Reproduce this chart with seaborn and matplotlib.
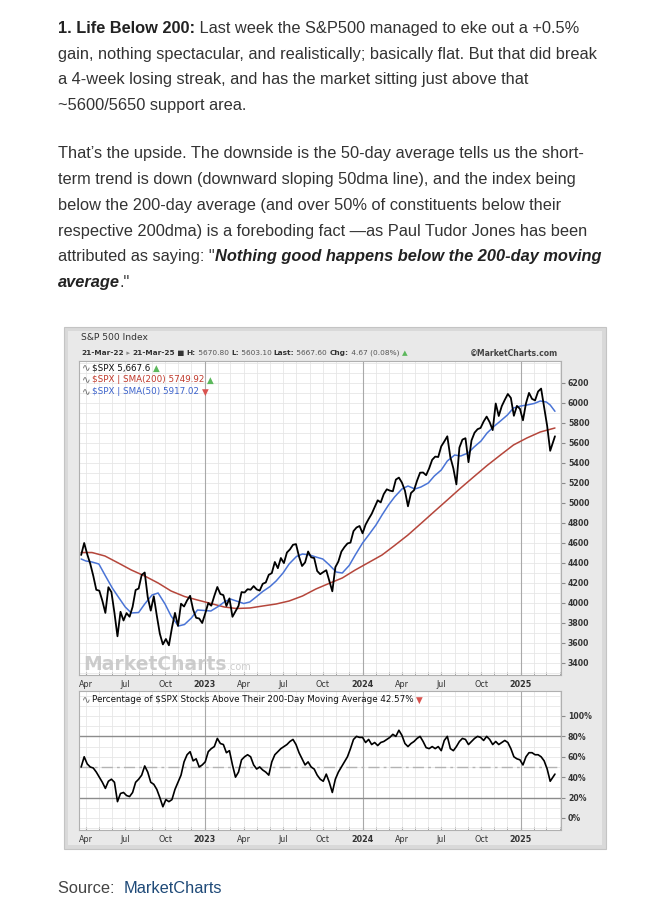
import matplotlib
matplotlib.use("Agg")
import matplotlib.pyplot as plt
import matplotlib.dates as mdates
from matplotlib.patches import Rectangle
from matplotlib.ticker import MultipleLocator
import pandas as pd
import seaborn as sns

# ---------------- data ----------------
spx_start = "2022-03-21"
spx_last_date = "2025-03-21"
spx_weekly = [
    4480, 4600, 4488, 4393, 4272, 4132, 4123, 4023, 3901, 4158,
    4109, 3901, 3667, 3912, 3825, 3899, 3863, 3962, 4130, 4145,
    4280, 4305, 4058, 3924, 4067, 3873, 3693, 3586, 3640, 3577,
    3752, 3901, 3771, 3993, 3965, 4026, 4072, 3934, 3852, 3845,
    3800, 3895, 3999, 3973, 4071, 4160, 4090, 4079, 3970, 4046,
    3862, 3917, 3971, 4109, 4105, 4138, 4133, 4169, 4136, 4124,
    4192, 4205, 4282, 4299, 4410, 4348, 4450, 4399, 4505, 4536,
    4582, 4589, 4464, 4370, 4406, 4515, 4457, 4450, 4320, 4288,
    4309, 4328, 4224, 4117, 4358, 4415, 4514, 4559, 4595, 4604,
    4719, 4755, 4770, 4697, 4784, 4840, 4891, 4959, 5027, 5006,
    5089, 5137, 5124, 5117, 5234, 5254, 5204, 5123, 4967, 5100,
    5128, 5223, 5303, 5305, 5278, 5347, 5432, 5464, 5460, 5567,
    5615, 5667, 5459, 5346, 5186, 5554, 5634, 5648, 5408, 5626,
    5703, 5738, 5751, 5815, 5864, 5808, 5729, 5995, 5870, 5969,
    6032, 6090, 6051, 5872, 5971, 5942, 5827, 5997, 6101, 6041,
    6026, 6115, 6144, 5955, 5770, 5522, 5667]

pct_weekly = [
    50, 60, 53, 50, 49, 45, 40, 35, 29, 36,
    38, 35, 16, 24, 25, 22, 21, 25, 35, 38,
    42, 51, 45, 35, 33, 28, 20, 11, 18, 16,
    18, 28, 35, 42, 55, 62, 65, 56, 58, 50,
    52, 55, 65, 68, 70, 78, 73, 72, 64, 66,
    52, 40, 45, 57, 60, 62, 60, 52, 48, 50,
    47, 45, 42, 55, 62, 65, 68, 70, 72, 75,
    77, 72, 64, 58, 52, 55, 50, 48, 42, 38,
    36, 43, 35, 25, 38, 45, 50, 55, 60, 68,
    77, 80, 79, 79, 74, 77, 72, 74, 71, 74,
    75, 77, 79, 82, 80, 86, 81, 73, 70, 73,
    75, 78, 80, 75, 69, 68, 70, 68, 70, 66,
    76, 80, 68, 66, 70, 75, 78, 77, 72, 75,
    78, 80, 79, 76, 80, 77, 72, 75, 72, 74,
    76, 74, 68, 60, 58, 57, 52, 60, 64, 64,
    62, 62, 60, 56, 48, 36, 43]

sma200_dates = [
    "2022-03-21", "2022-04-15", "2022-05-15", "2022-06-15", "2022-07-15",
    "2022-08-15", "2022-09-15", "2022-10-15", "2022-11-15", "2022-12-15",
    "2023-01-15", "2023-02-15", "2023-03-15", "2023-04-15", "2023-05-15",
    "2023-06-15", "2023-07-15", "2023-08-15", "2023-09-15", "2023-10-15",
    "2023-11-15", "2023-12-15", "2024-01-15", "2024-02-15", "2024-03-15",
    "2024-04-15", "2024-05-15", "2024-06-15", "2024-07-15", "2024-08-15",
    "2024-09-15", "2024-10-15", "2024-11-15", "2024-12-15", "2025-01-15",
    "2025-02-15", "2025-03-21"]
sma200_vals = [
    4505, 4505, 4470, 4400, 4330, 4270, 4200, 4120, 4065, 4030,
    3995, 3960, 3945, 3950, 3970, 3990, 4020, 4070, 4140, 4195,
    4250, 4330, 4405, 4480, 4575, 4680, 4795, 4915, 5030, 5150,
    5265, 5375, 5480, 5580, 5650, 5710, 5750]

sma50_dates = [
    "2022-03-21", "2022-04-01", "2022-04-15", "2022-05-01", "2022-05-15",
    "2022-06-01", "2022-06-15", "2022-07-01", "2022-07-15", "2022-08-01",
    "2022-08-15", "2022-09-01", "2022-09-15", "2022-10-01", "2022-10-15",
    "2022-11-01", "2022-11-15", "2022-12-01", "2022-12-15", "2023-01-01",
    "2023-01-15", "2023-02-01", "2023-02-15", "2023-03-01", "2023-03-15",
    "2023-04-01", "2023-04-15", "2023-05-01", "2023-05-15", "2023-06-01",
    "2023-06-15", "2023-07-01", "2023-07-15", "2023-08-01", "2023-08-15",
    "2023-09-01", "2023-09-15", "2023-10-01", "2023-10-15", "2023-11-01",
    "2023-11-15", "2023-12-01", "2023-12-15", "2024-01-01", "2024-01-15",
    "2024-02-01", "2024-02-15", "2024-03-01", "2024-03-15", "2024-04-01",
    "2024-04-15", "2024-05-01", "2024-05-15", "2024-06-01", "2024-06-15",
    "2024-07-01", "2024-07-15", "2024-08-01", "2024-08-15", "2024-09-01",
    "2024-09-15", "2024-10-01", "2024-10-15", "2024-11-01", "2024-11-15",
    "2024-12-01", "2024-12-15", "2025-01-01", "2025-01-15", "2025-02-01",
    "2025-02-15", "2025-03-01", "2025-03-10", "2025-03-21"]
sma50_vals = [
    4440, 4420, 4410, 4390, 4280, 4150, 4060, 3960, 3900, 3905,
    3990, 4080, 4100, 3990, 3870, 3770, 3785, 3850, 3930, 3925,
    3920, 3965, 4010, 4040, 4020, 3995, 4010, 4065, 4115, 4165,
    4220, 4300, 4390, 4465, 4490, 4480, 4460, 4440, 4385, 4310,
    4300, 4375, 4480, 4600, 4680, 4780, 4880, 4980, 5060, 5140,
    5170, 5140, 5160, 5200, 5270, 5330, 5420, 5480, 5470, 5500,
    5560, 5620, 5700, 5770, 5820, 5880, 5950, 5970, 5980, 5995,
    6020, 6010, 5980, 5917]

tick_dates = ["2022-04-01", "2022-07-01", "2022-10-01", "2023-01-01",
              "2023-04-01", "2023-07-01", "2023-10-01", "2024-01-01",
              "2024-04-01", "2024-07-01", "2024-10-01", "2025-01-01"]
tick_labels = ["Apr", "Jul", "Oct", "2023", "Apr", "Jul", "Oct", "2024",
               "Apr", "Jul", "Oct", "2025"]
price_ticks = [3400, 3600, 3800, 4000, 4200, 4400, 4600, 4800, 5000,
               5200, 5400, 5600, 5800, 6000, 6200]
pct_ticks = [0, 20, 40, 60, 80, 100]

# ---------------- figure ----------------
sns.set_style("white")
plt.rcParams['font.family'] = ['DejaVu Sans']

W, H = 645, 918
fig = plt.figure(figsize=(W / 100, H / 100), dpi=100)
fig.patch.set_facecolor('white')
fig.canvas.draw()
R = fig.canvas.get_renderer()


def width(txt, **kw):
    t = fig.text(0, 0, "|" + txt + "|", **kw)
    w1 = t.get_window_extent(R).width
    t.set_text("||")
    w2 = t.get_window_extent(R).width
    t.remove()
    return w1 - w2


def runs(x, y, parts, base, va='baseline', ha='left'):
    total = 0
    if ha == 'right':
        for txt, extra in parts:
            kw = dict(base); kw.update(extra)
            total += width(txt, **kw)
        x = x - total
    cx = x
    for txt, extra in parts:
        kw = dict(base); kw.update(extra)
        fig.text(cx / W, 1 - y / H, txt, va=va, ha='left', **kw)
        adv = width(txt, **kw)
        if kw.get('fontstyle') == 'italic':
            adv -= 0.5
        cx += adv
    return cx


# ---------------- article text ----------------
PF = 'Liberation Sans'
ref_line = "gain, nothing spectacular, and realistically; basically flat. But that did break"
w10 = width(ref_line, family=PF, fontsize=10)
fs = 10 * 539 / w10
body = dict(family=PF, fontsize=fs, color='#333333')
B = dict(fontweight='bold', color='#222222')
BI = dict(fontweight='bold', fontstyle='italic', color='#222222')
N = {}
X0 = 58

p1 = [
    [("1. Life Below 200:", B), (" Last week the S&P500 managed to eke out a +0.5%", N)],
    [("gain, nothing spectacular, and realistically; basically flat. But that did break", N)],
    [("a 4-week losing streak, and has the market sitting just above that", N)],
    [("~5600/5650 support area.", N)],
]
p2 = [
    [("That’s the upside. The downside is the 50-day average tells us the short-", N)],
    [("term trend is down (downward sloping 50dma line), and the index being", N)],
    [("below the 200-day average (and over 50% of constituents below their", N)],
    [("respective 200dma) is a foreboding fact —as Paul Tudor Jones has been", N)],
    [('attributed as saying: "', N), ("Nothing good happens below the 200-day moving", BI)],
    [("average", BI), ('."', N)],
]
for yc, line in zip([28, 54, 79, 105], p1):
    runs(X0, yc + 5, line, body)
for yc, line in zip([153, 179, 205, 231, 256, 282], p2):
    runs(X0, yc + 5, line, body)
runs(X0, 893, [("Source:  ", dict(color='#444444')), ("MarketCharts", dict(color='#1f4a78'))], body)

# ---------------- chart panel ----------------
fig.add_artist(Rectangle((64 / W, 1 - 849 / H), (606 - 64) / W, (849 - 327) / H,
                         transform=fig.transFigure, facecolor='#d9d9d9',
                         edgecolor='#c4c4c4', lw=0.8, zorder=-2))
fig.add_artist(Rectangle((68 / W, 1 - 845 / H), (602 - 68) / W, (845 - 331) / H,
                         transform=fig.transFigure, facecolor='#e9e9e9',
                         edgecolor='none', zorder=-1))

spx_dates = list(pd.date_range(spx_start, periods=len(spx_weekly) - 1, freq="7D")) + [pd.Timestamp(spx_last_date)]
df = pd.DataFrame({"date": spx_dates, "spx": spx_weekly, "pct": pct_weekly})
df200 = pd.DataFrame({"date": pd.to_datetime(sma200_dates), "v": sma200_vals})
df50 = pd.DataFrame({"date": pd.to_datetime(sma50_dates), "v": sma50_vals})
tdates = pd.to_datetime(tick_dates)
xlim = (pd.Timestamp("2022-03-16"), pd.Timestamp("2025-04-04"))

L, Rr = 79, 561
ax1 = fig.add_axes([L / W, 1 - 675 / H, (Rr - L) / W, (675 - 361) / H])
ax2 = fig.add_axes([L / W, 1 - 830 / H, (Rr - L) / W, (830 - 691) / H])

for ax in (ax1, ax2):
    ax.set_facecolor('white')
    ax.set_xlim(*xlim)
    ax.xaxis.set_minor_locator(mdates.MonthLocator())
    ax.xaxis.remove_overlapping_locs = False
    ax.set_xticks(tdates)
    ax.set_xticklabels(tick_labels)
    for lbl, txt in zip(ax.get_xticklabels(), tick_labels):
        if txt.isdigit():
            lbl.set_fontweight('bold')
    ax.tick_params(axis='x', which='both', direction='in', length=2.5, color='#9a9a9a',
                   pad=3.5, labelsize=5.8, labelcolor='#333333', bottom=True, top=False)
    ax.grid(which='minor', axis='x', color='#e6e6e6', lw=0.6)
    ax.grid(which='both', axis='y', color='#e6e6e6', lw=0.6)
    for d, txt in zip(tdates, tick_labels):
        if txt.isdigit():
            ax.axvline(d, color='#a9a9a9', lw=0.8, zorder=0.8)
    ax.yaxis.tick_right()
    ax.tick_params(axis='y', which='major', direction='out', length=3, color='#8a8a8a',
                   pad=2, labelsize=5.6, labelcolor='#333333', right=True, left=False)
    ax.tick_params(axis='y', which='minor', length=0)
    for s in ax.spines.values():
        s.set_color('#b0b0b0')
        s.set_linewidth(0.8)

# upper: price
sns.lineplot(data=df200, x="date", y="v", ax=ax1, color='#b5463b', linewidth=1.1)
sns.lineplot(data=df50, x="date", y="v", ax=ax1, color='#4a74d6', linewidth=1.1)
sns.lineplot(data=df, x="date", y="spx", ax=ax1, color='black', linewidth=1.3)
ax1.set_ylim(3280, 6420)
ax1.set_yticks(price_ticks)
ax1.set_yticklabels([str(v) for v in price_ticks])
ax1.yaxis.set_minor_locator(MultipleLocator(100))

# lower: breadth
sns.lineplot(data=df, x="date", y="pct", ax=ax2, color='black', linewidth=1.2, zorder=3)
ax2.axhline(80, color='#8c8c8c', lw=1.0, zorder=1)
ax2.axhline(20, color='#8c8c8c', lw=1.0, zorder=1)
ax2.axhline(50, color='#b3b3b3', lw=1.0, dashes=(8, 3, 2, 3), zorder=1)
ax2.set_ylim(-11.8, 124.5)
ax2.set_yticks(pct_ticks)
ax2.set_yticklabels([f"{v}%" for v in pct_ticks])
ax2.yaxis.set_minor_locator(MultipleLocator(10))

for ax in (ax1, ax2):
    ax.set_xlabel("")
    ax.set_ylabel("")
    for lbl in ax.get_yticklabels():
        lbl.set_fontweight('bold')

# ---------------- chart texts ----------------
CF = 'DejaVu Sans'
fig.text(81 / W, 1 - 338 / H, "S&P 500 Index", family=CF, fontsize=6.6, color='#333333', va='center')

hdr = [("21-Mar-22", dict(fontweight='bold')), (" ▸ ", dict(color='#888888')),
       ("21-Mar-25", dict(fontweight='bold')), (" ■ ", N),
       ("H:", dict(fontweight='bold')), (" 5670.80 ", dict(color='#555555')),
       ("L:", dict(fontweight='bold')), (" 5603.10 ", dict(color='#555555')),
       ("Last:", dict(fontweight='bold')), (" 5667.60 ", dict(color='#555555')),
       ("Chg:", dict(fontweight='bold')), (" 4.67 (0.08%) ", dict(color='#555555')),
       ("▲", dict(color='#5cb85c'))]
wsum = sum(width(t, **{**dict(family=CF, fontsize=6), **e}) for t, e in hdr)
hfs = 6 * (410 - 81) / wsum
runs(81, 353, hdr, dict(family=CF, fontsize=hfs, color='#333333'), va='center')
runs(558, 353, [("©MarketCharts.com", dict(fontweight='bold'))],
     dict(family=CF, fontsize=hfs * 1.05, color='#444444'), va='center', ha='right')

lg = dict(family=CF, fontsize=6.3)
icon = dict(family=CF, fontsize=7.5, color='#666666')
legend_rows = [
    (368, [(r"\$SPX 5,667.6 ", dict(color='#111111')), ("▲", dict(color='#5cb85c'))]),
    (380, [(r"\$SPX | SMA(200) 5749.92 ", dict(color='#c0392b')), ("▲", dict(color='#5cb85c'))]),
    (392, [(r"\$SPX | SMA(50) 5917.02 ", dict(color='#3b62cc')), ("▼", dict(color='#d9534f'))]),
    (700, [(r"Percentage of \$SPX Stocks Above Their 200-Day Moving Average 42.57% ", dict(color='#111111')),
           ("▼", dict(color='#d9534f'))]),
]
for yy, parts in legend_rows:
    fig.text(82 / W, 1 - yy / H, "∿", va='center', **icon)
    runs(92, yy, parts, lg, va='center')

# watermark
runs(83, 670, [("MarketCharts", dict(fontsize=13.5, fontweight='bold')), (".com", dict(fontsize=7))],
     dict(family=CF, color='#c4c4c4', alpha=0.85))

fig.savefig("out.png", dpi=100, facecolor='white')
